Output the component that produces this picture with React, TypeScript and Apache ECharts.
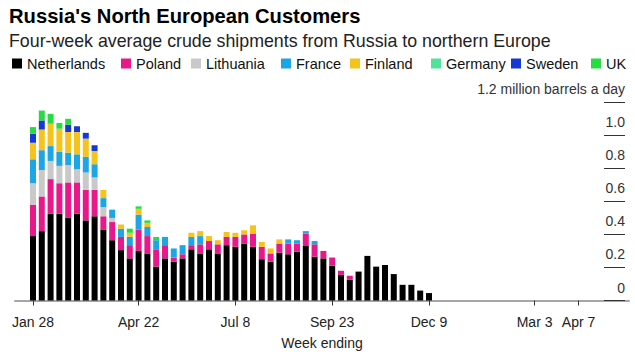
import { useEffect, useRef } from "react";
import * as echarts from "echarts";

const seriesNames = ["Netherlands", "Poland", "Lithuania", "France", "Finland", "Germany", "Sweden", "UK"];
const seriesColors = ["#000000", "#e8188c", "#c9c9c9", "#1ca6e6", "#f6c21c", "#4fe29c", "#1638d4", "#27dc43"];

// weekly values, week ending Jan 28 2022 ... Dec 9 2022 (million barrels a day)
const netherlands = [0.39, 0.42, 0.525, 0.525, 0.5, 0.525, 0.485, 0.51, 0.43, 0.365,
  0.305, 0.255, 0.3, 0.285, 0.205, 0.255, 0.235, 0.255, 0.31, 0.285,
  0.31, 0.285, 0.335, 0.325, 0.345, 0.325, 0.25, 0.235, 0.29, 0.28,
  0.295, 0.33, 0.265, 0.255, 0.21, 0.155, 0.125, 0.175, 0.27, 0.205,
  0.215, 0.16, 0.095, 0.095, 0.06, 0.045];
const poland = [0.19, 0.21, 0.21, 0.185, 0.215, 0.19, 0.185, 0.16, 0.08, 0.11,
  0.08, 0.08, 0.13, 0.105, 0.105, 0.08, 0.025, 0.025, 0.025, 0.055,
  0.05, 0.055, 0.05, 0.06, 0.055, 0.08, 0.075, 0.05, 0.055, 0.065,
  0.05, 0.075, 0.075, 0.045, 0.05, 0.025, 0.025, 0, 0, 0,
  0, 0, 0, 0, 0, 0];
const lithuania = [0.13, 0.16, 0.11, 0.105, 0.105, 0.08, 0.105, 0.075, 0.055, 0.025,
  0, 0, 0, 0, 0, 0, 0, 0, 0, 0,
  0, 0, 0, 0, 0, 0, 0, 0, 0, 0,
  0, 0, 0, 0, 0, 0, 0, 0, 0, 0,
  0, 0, 0, 0, 0, 0];
const france = [0.145, 0.12, 0.09, 0.085, 0.075, 0.09, 0.095, 0.08, 0.055, 0.05,
  0.05, 0.05, 0.09, 0.055, 0.055, 0.05, 0.055, 0.055, 0.05, 0.05,
  0, 0, 0, 0, 0, 0, 0, 0, 0, 0.025,
  0.02, 0.015, 0.02, 0, 0, 0, 0, 0, 0, 0,
  0, 0, 0, 0, 0, 0];
const finland = [0.1, 0.125, 0.135, 0.14, 0.125, 0.135, 0.11, 0.08, 0.05, 0,
  0.025, 0.025, 0.035, 0.025, 0, 0, 0, 0, 0.025, 0.03,
  0.03, 0.025, 0.03, 0.025, 0.025, 0.05, 0.03, 0.03, 0.025, 0,
  0, 0, 0, 0, 0, 0, 0, 0, 0, 0,
  0, 0, 0, 0, 0, 0];
const germany = [0, 0, 0, 0, 0, 0, 0, 0, 0, 0,
  0, 0, 0, 0, 0, 0, 0, 0, 0, 0,
  0, 0, 0, 0, 0, 0, 0, 0, 0, 0,
  0, 0, 0, 0, 0, 0, 0, 0, 0, 0,
  0, 0, 0, 0, 0, 0];
const sweden = [0.055, 0.055, 0, 0, 0.045, 0.035, 0.035, 0.035, 0, 0,
  0, 0, 0, 0, 0, 0, 0, 0, 0, 0,
  0, 0, 0, 0, 0, 0, 0, 0, 0, 0,
  0, 0, 0, 0, 0, 0, 0, 0, 0, 0,
  0, 0, 0, 0, 0, 0];
const uk = [0.04, 0.06, 0.06, 0.035, 0.035, 0, 0, 0, 0, 0,
  0, 0.025, 0.015, 0.015, 0.02, 0, 0, 0, 0, 0,
  0, 0, 0, 0, 0, 0, 0, 0, 0, 0,
  0, 0, 0, 0, 0, 0, 0, 0, 0, 0,
  0, 0, 0, 0, 0, 0];

const seriesValues = [netherlands, poland, lithuania, france, finland, germany, sweden, uk];

// x ticks: week index counted from week ending Jan 28
const tickWeeks = [0, 12, 23, 34, 45, 57, 62];
const tickLabels = ["Jan 28", "Apr 22", "Jul 8", "Sep 23", "Dec 9", "Mar 3", "Apr 7"];

const FONT = "'Liberation Sans', Arial, Helvetica, sans-serif";

export default function App() {
  const ref = useRef<HTMLDivElement>(null);

  useEffect(() => {
    if (!ref.current) return;
    const chart = echarts.init(ref.current, null, { renderer: "svg" });
    const legendLefts = [12, 121, 191, 281, 350, 431, 511, 591];

    const option: any = {
      animation: false,
      backgroundColor: "#ffffff",
      textStyle: { fontFamily: FONT },
      title: [
        {
          text: "Russia's North European Customers",
          left: 9,
          top: 6,
          padding: 0,
          textStyle: { fontFamily: FONT, fontSize: 20.2, fontWeight: "bold", color: "#000" },
        },
        {
          text: "Four-week average crude shipments from Russia to northern Europe",
          left: 9,
          top: 32,
          padding: 0,
          textStyle: { fontFamily: FONT, fontSize: 17.8, fontWeight: "normal", color: "#222" },
        },
      ],
      legend: seriesNames.map((name, k) => ({
        data: [name],
        left: legendLefts[k],
        top: 56,
        padding: 0,
        icon: "rect",
        itemWidth: 10,
        itemHeight: 10,
        selectedMode: false,
        textStyle: { fontFamily: FONT, fontSize: 14.5, color: "#111" },
      })),
      grid: { left: 15, right: 6, top: 102.3, bottom: 56.5 },
      xAxis: {
        type: "value",
        min: -2.045,
        max: 67.73,
        splitLine: { show: false },
        axisLine: { show: true, onZero: false, lineStyle: { color: "#a6a6a6", width: 2 } },
        axisTick: { show: true, customValues: tickWeeks, length: 5, lineStyle: { color: "#333", width: 1 } },
        axisLabel: {
          customValues: tickWeeks,
          formatter: (v: number) => {
            const i = tickWeeks.indexOf(Math.round(v));
            return i >= 0 ? tickLabels[i] : "";
          },
          fontFamily: FONT,
          fontSize: 14,
          color: "#222",
          margin: 14,
        },
        name: "Week ending",
        nameLocation: "middle",
        nameGap: 35,
        nameTextStyle: { fontFamily: FONT, fontSize: 14, color: "#222" },
      },
      yAxis: {
        type: "value",
        position: "right",
        min: 0,
        max: 1.2,
        interval: 0.2,
        offset: -4,
        axisLine: { show: false, onZero: false },
        splitLine: { show: false },
        axisTick: { show: true, inside: true, length: 21, lineStyle: { color: "#333", width: 1 } },
        axisLabel: {
          inside: true,
          margin: 0,
          verticalAlign: "bottom",
          lineHeight: 26,
          fontFamily: FONT,
          fontSize: 14,
          color: "#333",
          formatter: (v: number) => {
            const s = Number(v).toFixed(1);
            if (s === "1.2") return "1.2 million barrels a day";
            if (s === "0.0") return "0";
            return s;
          },
        },
      },
      series: seriesNames.map((name, k) => ({
        name,
        type: "bar",
        stack: "total",
        barWidth: 6,
        itemStyle: { color: seriesColors[k] },
        emphasis: { disabled: true },
        // value first so that stacking happens on the value (y) dimension
        encode: { x: 1, y: 0 },
        data: seriesValues[k].map((v, i) => [v, i]),
      })),
    };

    chart.setOption(option);
    return () => chart.dispose();
  }, []);

  return (
    <div
      ref={ref}
      style={{ position: "fixed", left: 0, top: 0, width: 635, height: 357, background: "#fff" }}
    />
  );
}
